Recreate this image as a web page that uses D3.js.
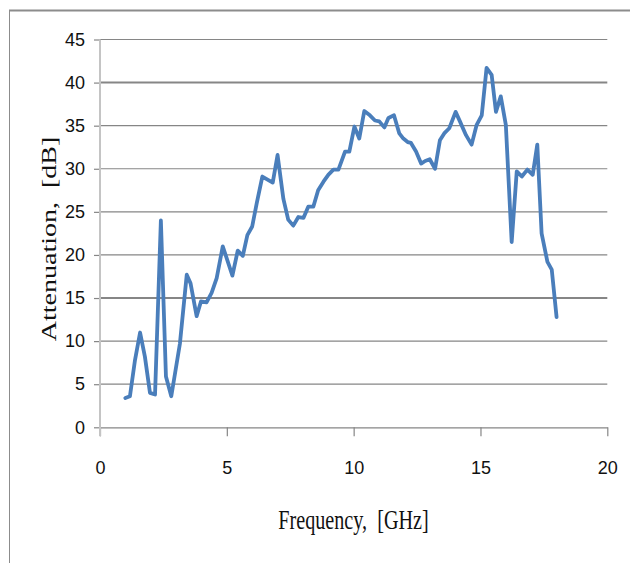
<!DOCTYPE html>
<html>
<head>
<meta charset="utf-8">
<script src="https://cdn.jsdelivr.net/npm/d3@7"></script>
<style>
  html, body { margin: 0; padding: 0; background: #fff; }
  svg { display: block; }
</style>
</head>
<body>
<svg id="chart" width="630" height="563"></svg>
<script>
// ---- data ----
const frequency = [1.0, 1.18, 1.38, 1.58, 1.77, 1.97, 2.17, 2.40, 2.60, 2.81, 3.15, 3.42, 3.57, 3.81, 3.98, 4.20, 4.40, 4.60, 4.84, 5.22, 5.43, 5.63, 5.81, 6.0, 6.18, 6.40, 6.81, 7.0, 7.23, 7.42, 7.62, 7.82, 8.02, 8.21, 8.41, 8.60, 8.81, 9.0, 9.2, 9.4, 9.66, 9.83, 10.03, 10.22, 10.42, 10.64, 10.84, 11.01, 11.21, 11.37, 11.59, 11.80, 11.96, 12.13, 12.26, 12.46, 12.66, 12.82, 13.0, 13.21, 13.40, 13.57, 13.77, 14.02, 14.19, 14.43, 14.65, 14.85, 15.05, 15.24, 15.44, 15.61, 15.80, 16.0, 16.23, 16.43, 16.63, 16.85, 17.06, 17.24, 17.41, 17.64, 17.81, 18.0];
const attenuation = [3.4, 3.6, 7.8, 11.0, 8.2, 4.0, 3.8, 24.0, 5.9, 3.6, 9.7, 17.7, 16.7, 12.9, 14.6, 14.5, 15.6, 17.3, 21.0, 17.6, 20.5, 19.9, 22.3, 23.3, 26.0, 29.1, 28.4, 31.6, 26.5, 24.1, 23.4, 24.4, 24.3, 25.6, 25.6, 27.5, 28.5, 29.3, 29.9, 29.9, 32.0, 32.0, 34.9, 33.5, 36.7, 36.2, 35.6, 35.5, 34.8, 35.9, 36.2, 34.1, 33.5, 33.1, 33.0, 32.0, 30.6, 30.9, 31.1, 30.0, 33.3, 34.1, 34.7, 36.6, 35.5, 33.9, 32.8, 35.1, 36.2, 41.7, 40.9, 36.6, 38.4, 35.1, 21.5, 29.7, 29.1, 29.9, 29.3, 32.8, 22.5, 19.2, 18.3, 12.8];
const xTicks = [0, 5, 10, 15, 20];
const yTicks = [0, 5, 10, 15, 20, 25, 30, 35, 40, 45];
const xTitle = "Frequency,  [GHz]";
const yTitle = "Attenuation,  [dB]";

// ---- layout ----
const svg = d3.select("#chart");
const x = d3.scaleLinear().domain([0, 20]).range([100, 607.3]);
const y = d3.scaleLinear().domain([0, 45]).range([427.3, 39.5]);
const gridColor = "#868686";

// outer frame (left and top edges visible)
svg.append("line").attr("x1", 9.5).attr("x2", 9.5).attr("y1", 10).attr("y2", 563)
  .attr("stroke", "#8c8c8c").attr("stroke-width", 1);
svg.append("line").attr("x1", 9).attr("x2", 630).attr("y1", 10.5).attr("y2", 10.5)
  .attr("stroke", "#8c8c8c").attr("stroke-width", 2);

// horizontal gridlines
svg.append("g").selectAll("line").data(yTicks.filter(d => d > 0)).join("line")
  .attr("x1", x(0)).attr("x2", x(20))
  .attr("y1", d => y(d)).attr("y2", d => y(d))
  .attr("stroke", gridColor)
  .attr("stroke-width", d => (d === 40 || d === 15) ? 2 : 1.2);

// y axis
const yAxis = svg.append("g").attr("transform", `translate(${x(0)},0)`)
  .call(d3.axisLeft(y).tickValues(yTicks).tickSizeInner(6).tickSizeOuter(0).tickPadding(9));
yAxis.select(".domain").remove();
yAxis.selectAll(".tick line").attr("stroke", gridColor).attr("stroke-width", 1.2);
yAxis.selectAll(".tick text")
  .attr("font-family", "'Liberation Sans Narrow', 'Liberation Sans', Arial, sans-serif")
  .attr("font-size", 18).attr("fill", "#111");

// x axis
const xAxis = svg.append("g").attr("transform", `translate(0,${y(0)})`)
  .call(d3.axisBottom(x).tickValues(xTicks).tickSizeInner(9).tickSizeOuter(0).tickPadding(25));
xAxis.select(".domain").attr("stroke", gridColor).attr("stroke-width", 1.2);
xAxis.selectAll(".tick line").attr("stroke", gridColor).attr("stroke-width", 1.2);
xAxis.selectAll(".tick text")
  .attr("font-family", "'Liberation Sans Narrow', 'Liberation Sans', Arial, sans-serif")
  .attr("font-size", 18).attr("fill", "#111");

// y axis line (light)
svg.append("line").attr("x1", x(0)).attr("x2", x(0)).attr("y1", y(45)).attr("y2", y(0) + 9)
  .attr("stroke", "#c4c4c4").attr("stroke-width", 2);

// data line
const pts = frequency.map((f, i) => [f, attenuation[i]]);
svg.append("path").datum(pts)
  .attr("fill", "none").attr("stroke", "#4a7ebb").attr("stroke-width", 3.8)
  .attr("stroke-linejoin", "round").attr("stroke-linecap", "round")
  .attr("d", d3.line().x(d => x(d[0])).y(d => y(d[1])));

// axis titles
svg.append("text")
  .attr("transform", "translate(353.5,529) scale(0.72,1)")
  .attr("text-anchor", "middle")
  .attr("font-family", "'Liberation Serif', 'Times New Roman', serif")
  .attr("font-size", 28).attr("fill", "#111")
  .attr("xml:space", "preserve")
  .text(xTitle);
svg.append("text")
  .attr("transform", "translate(56,239) rotate(-90) scale(1,0.78)")
  .attr("text-anchor", "middle")
  .attr("font-family", "'Liberation Serif', 'Times New Roman', serif")
  .attr("font-size", 28).attr("fill", "#111")
  .attr("xml:space", "preserve")
  .text(yTitle);
</script>
</body>
</html>
